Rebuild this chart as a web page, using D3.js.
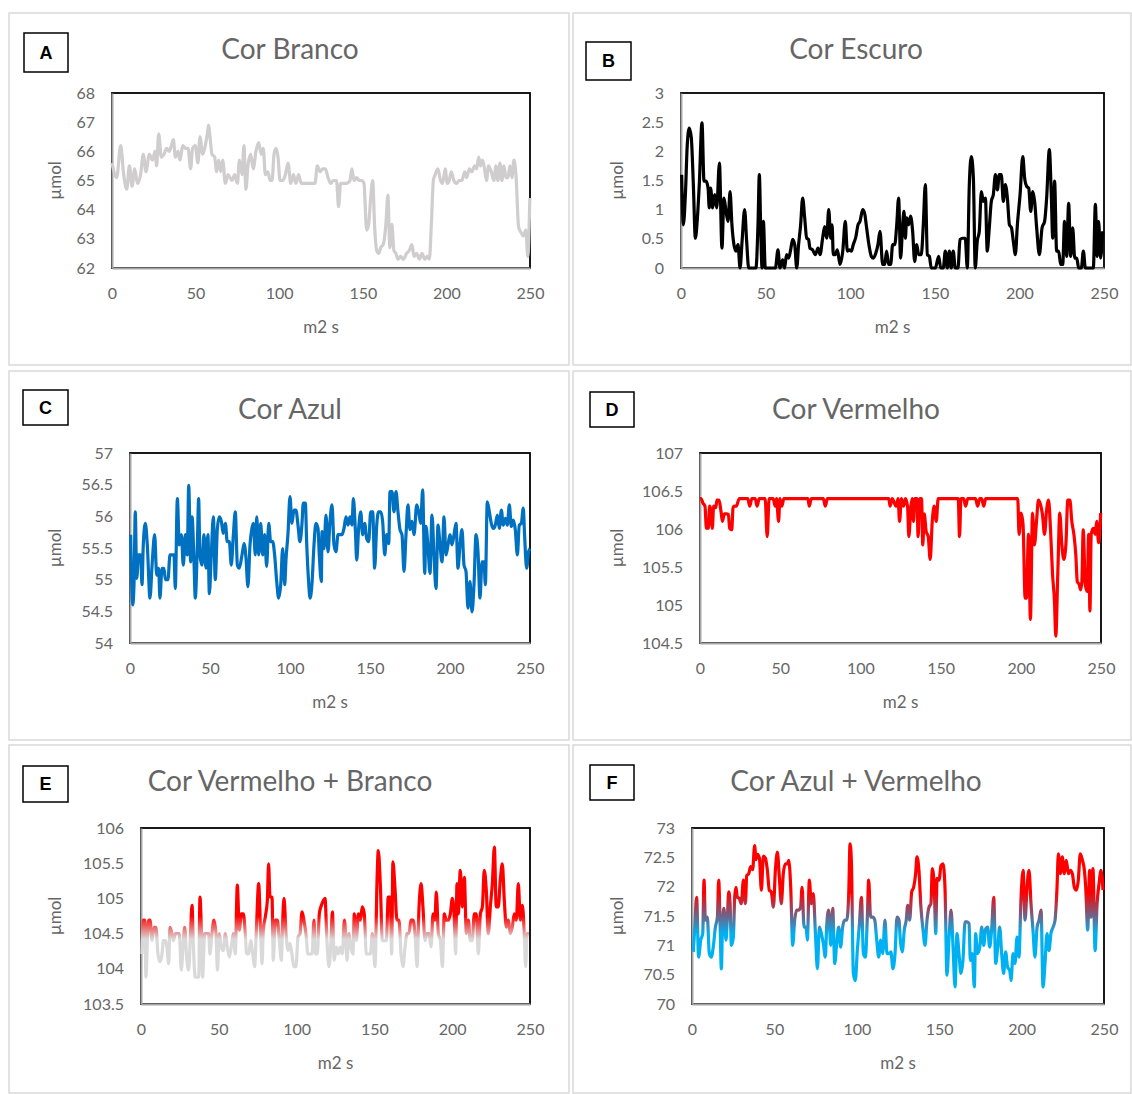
<!DOCTYPE html>
<html>
<head>
<meta charset="utf-8">
<script src="https://cdn.jsdelivr.net/npm/d3@7"></script>
<style>
  body { margin: 0; background: #fff; }
  svg { display: block; font-family: Lato, "Open Sans", sans-serif; }
</style>
</head>
<body>
<svg width="1132" height="1094"></svg>
<script>
// [m2 s, µmol] pairs
const branco = [[0,65.6],[2.8,65.1],[5.2,66.2],[6.8,65.3],[8.8,64.7],[10.4,65.5],[12,64.8],[13.6,65.4],[15.2,64.9],[17.1,65.2],[18.7,65.9],[20.3,65.3],[22.3,65.9],[24.3,65.7],[25.7,66.0],[26.7,65.5],[27.9,66.6],[29.5,65.8],[31.1,65.9],[32.7,66.1],[34.3,66.0],[35.5,66.2],[36.7,66.4],[37.9,65.8],[39.5,66.0],[40.7,65.7],[42.3,66.2],[43.9,66.1],[45.5,66.1],[47,65.4],[48.2,66.1],[49.8,66.2],[51.4,65.6],[52.6,66.5],[54.2,65.9],[55.8,66.2],[57,66.6],[57.8,66.9],[58.6,66.5],[59.8,65.9],[61.4,65.8],[62.6,65.3],[63.8,65.7],[65,65.3],[66.2,65.7],[67.8,64.9],[69.4,65.2],[70.6,65.1],[71.8,65.0],[73.4,65.2],[75,64.9],[76.2,65.7],[77.8,65.2],[78.9,66.2],[80.1,64.7],[81.3,65.5],[82.9,65.9],[84.5,65.4],[86.1,66.0],[87.7,66.3],[89.3,65.9],[90.5,66.1],[91.7,65.2],[93.3,65.3],[94.5,65.0],[95.7,65.0],[96.9,65.9],[98.1,66.1],[99.3,65.8],[100.5,65.0],[102.1,65.0],[103.7,65.2],[105.3,65.6],[106.9,64.9],[108.5,65.2],[110,64.9],[111.6,65.2],[113.2,64.9],[114.8,64.9],
  [118.4,64.9],[121.4,64.9],[122.8,65.5],[124.4,65.3],[126,65.4],[127.6,65.4],[129.2,65.1],[130.8,64.9],[132.4,65.0],[134.3,65.0],[135.5,64.1],[136.7,64.9],[138.3,64.9],[140.3,64.9],[142.3,65.0],[143.5,65.4],[144.7,65.0],[146.3,65.1],[147.9,65.0],[149.5,65.0],[150.7,64.9],[152.3,63.3],[153.5,63.5],[154.7,64.4],[155.9,65.0],[157.1,63.4],[158.3,62.6],[159.5,62.5],[160.7,62.7],[162.2,62.8],[163.8,63.5],[165,64.5],[166.2,62.7],[167.4,63.5],[168.6,62.6],[169.8,62.5],[171,62.3],[172.6,62.4],[174.2,62.3],[176.2,62.5],[177.8,62.6],[179.4,62.8],[180.6,62.4],[182.2,62.5],[183.8,62.3],[185.4,62.5],[187,62.3],[188.6,62.4],[189.8,62.3],[191,63.5],[192.2,65.0],[193.3,65.2],[194.9,65.4],[196.5,65.0],[197.7,64.9],[199.3,65.4],[200.5,64.9],[201.7,65.0],[202.9,65.3],[204.5,65.0],[206.1,64.9],[207.7,65.0],[209.3,65.0],[210.9,65.3],[212.1,65.1],[213.7,65.4],[215.3,65.3],[216.9,65.5],[218.1,65.4],[219.3,65.8],[220.4,65.5],[221.6,65.7],[222.8,65.4],[224,65.0],[225.2,65.5],[226.8,65.3],[228.4,65.0],[229.6,65.5],[230.8,65.0],[232,65.6],[233.2,65.0],[234.4,65.5],[235.6,65.1],[236.8,65.1],[238,65.5],[239.2,65.1],[240.4,65.7],[241.6,65.2],[243.2,63.4],[244.8,63.2],[246,63.1],[247.5,63.3],[248.7,62.4],[249.9,64.4]];

const escuro = [[0.4,1.6],[1.4,0.74],[2.6,1.26],[3.7,2.11],[4.9,2.4],[6.1,2.23],[7.3,1.43],[8.5,0.51],[9.7,0.86],[10.8,1.43],[12.4,2.49],[13.6,1.49],[14.8,1.49],[16,1.37],[16.7,1.03],[17.5,1.37],[18.7,1.03],[19.9,1.26],[21.1,1.03],[22.7,1.8],[24.2,0.34],[25.4,1.2],[26.6,0.97],[27.8,0.8],[29,1.31],[30.1,0.74],[31.3,0.4],[32.5,0.29],[33.7,0.4],[34.9,0],[36.1,0.46],[37.6,1.0],[38.8,0.46],[40,0],[44.3,0],[45.5,0.74],[46.3,1.6],[47.1,0.69],[47.9,0],[48.7,0.8],[49.8,0],[55.8,0],[57.3,0.31],[58.5,0],[60.1,0.14],[61.2,0],[62.4,0.23],[63.6,0.17],[64.8,0.31],[66,0.49],[67.2,0.4],[68.4,0],[69.5,0.4],[70.7,0.74],[71.9,1.2],[73.1,0.86],[74.3,0.51],[75.4,0.49],[76.2,0.34],[77.8,0.31],[79.4,0.23],[81,0.34],[82.2,0.23],[83.7,0.51],[84.9,0.71],[86.1,0.51],[87.3,1.0],[88.5,0.51],[89.3,0.74],[90,0.23],[91.2,0.23],[92.4,0.31],[94,0.06],[95.6,0.29],[97.1,0.8],[98.3,0.29],[99.5,0.31],[100.7,0.29],[101.8,0.4],[103.4,0.54],[104.6,0.74],[105.8,0.8],[107.4,1.0],[108.5,0.94],[109.7,0.69],[110.9,0.43],[112.5,0.2],[113.7,0.17],[115.2,0.26],[116.4,0.4],
  [117.6,0.63],[119.2,0.06],[120.4,0.06],[121.5,0.29],[122.7,0.06],[123.9,0.06],[125.1,0.4],[126.3,0.4],[127.5,0.74],[128.6,1.2],[129.8,0.17],[131,0.74],[131.8,0.97],[132.6,0.51],[133.4,0.86],[134.5,0.74],[135.7,0.89],[136.9,0.63],[138.1,0.11],[139.3,0.4],[140.5,0.23],[142,0.23],[143.2,0.74],[144.4,1.43],[145.6,0.23],[146.8,0.2],[147.9,0],[150.3,0],[152.3,0.2],[153.5,0],[155,0],[156.2,0.29],[157.4,0],[158.6,0.29],[159.7,0],[160.9,0.29],[162.1,0],[163.7,0],[164.9,0.49],[166.5,0.51],[168,0.51],[169.2,0],[170.4,1.43],[171.6,1.91],[172.8,1.54],[173.9,0],[175.1,0.46],[176.3,0.63],[177.5,1.31],[178.7,1.14],[179.9,1.2],[181,0.29],[182.2,0.69],[183.4,1.14],[184.6,1.26],[185.8,1.6],[187,1.34],[188.1,1.6],[189.3,1.6],[190.5,1.14],[191.7,1.43],[192.9,1.2],[194.1,0.74],[195.3,0.69],[196.4,0.46],[197.6,0.23],[198.8,0.74],[200.4,1.26],[202,1.91],[203.1,1.54],[204.3,1.4],[205.5,1.37],[206.7,0.97],[207.9,1.31],[209,1.14],[210.2,0.69],[211.8,0.23],[213.4,0.69],[214.9,0.8],[216.1,1.2],[217.7,2.03],[218.9,1.2],[219.7,0.51],[220.8,1.49],[222,0.29],[223.2,0.29],[224.4,0.06],[225.6,0.06],[226.7,0.8],[227.9,0.2],[229.1,1.11],[230.3,0.2],[231.5,0.69],[232.7,0.17],[233.9,0.17],[235,0],[236.6,0],[237.8,0.29],[239,0],[243.7,0],[244.9,1.09],[246,0.2],[246.8,0.8],[248,0.17],[249.2,0.63]];

const azul = [[0.4,55.71],[1.7,54.6],[2.5,54.92],[3.3,56.07],[4.2,55.02],[5.4,55.39],[6.7,55.39],[7.5,54.92],[8.3,55.55],[9.6,55.89],[10.8,55.55],[12.5,54.71],[13.8,55.23],[15.4,55.71],[16.7,55.07],[17.9,55.18],[18.7,54.71],[20,55.18],[21.2,55.18],[22.1,55.0],[23.7,55.0],[25,55.39],[26.2,55.39],[27.5,55.39],[28.3,54.86],[29.6,56.28],[30.8,55.55],[32.1,55.71],[33.3,55.23],[34.6,55.71],[35.8,55.39],[36.7,56.49],[37.9,55.28],[38.8,55.99],[40,55.28],[40.8,54.71],[42.1,55.55],[42.9,56.28],[43.7,55.39],[45,55.23],[46.2,55.71],[47.5,55.18],[48.7,55.71],[49.6,54.78],[50.8,55.39],[52.1,55.99],[53.3,55.0],[54.6,55.81],[55.8,55.99],[57.1,55.92],[58.3,55.73],[59.6,55.89],[60.8,55.6],[62.1,55.6],[63.3,55.23],[64.6,55.71],[65.8,56.07],[67.1,55.23],[68.3,55.18],[70,55.39],[71.3,55.57],[72.5,55.34],[73.7,54.89],[75,55.55],[76.2,55.81],[77.1,55.89],[78.3,55.39],[79.2,55.99],[80.4,55.39],[81.7,55.89],[82.9,55.39],[84.2,55.71],[85.4,55.21],[86.7,55.89],[87.9,55.6],[89.2,55.6],[90.4,55.39],[91.7,54.97],[92.9,54.71],[94.2,54.92],[95.4,55.49],[96.7,54.92],[97.5,55.32],[98.7,55.71],[100,56.31],[101.2,55.89],[102.5,56.1],[103.7,56.1],[105,55.86],[106.2,55.6],[107.5,55.89],[108.3,56.21],[109.6,56.21],[110.4,55.6],[111.7,54.94],[112.5,54.71],[113.7,54.92],[115,55.55],[116.2,55.89],[117.5,55.81],[118.3,55.39],[119.6,54.97],
  [120,55.76],[121.25,55.49],[122.5,56.02],[123.75,55.44],[125,55.92],[126.25,56.18],[127.5,55.55],[128.75,55.44],[130,55.71],[131.25,55.71],[132.5,55.71],[133.75,55.81],[135,55.99],[136.25,55.86],[137.5,55.99],[138.75,55.86],[139.6,56.28],[140.8,55.81],[141.7,55.31],[142.9,55.81],[144.2,56.07],[145.4,55.71],[146.7,55.89],[147.9,55.65],[149.2,55.6],[150.4,56.07],[151.7,56.07],[152.9,55.18],[154.2,55.86],[155.4,56.07],[156.7,56.07],[157.9,55.92],[159.2,55.39],[160.4,55.71],[161.7,55.57],[162.5,56.39],[163.75,56.39],[165,56.07],[166.25,56.39],[167.5,56.07],[168.75,55.79],[170,55.71],[171.25,55.13],[172.5,55.71],[173.75,56.18],[175,55.79],[176.25,55.92],[177.5,55.71],[179.2,56.18],[180.4,56.07],[181.7,55.89],[182.9,56.42],[184.2,55.1],[185,55.84],[186.25,55.52],[187.5,55.1],[188.75,56.02],[190,55.39],[191.25,54.86],[192.5,55.86],[193.75,55.55],[195,55.28],[196.25,55.99],[197.5,55.39],[198.75,55.55],[200,55.71],[201.25,55.55],[202.5,55.71],[203.75,55.89],[205,55.18],[206.25,55.55],[207.5,55.79],[208.75,55.23],[210,55.13],[211.25,54.55],[212.5,54.97],[213.75,54.49],[215,54.92],[216.25,55.71],[217.5,55.44],[218.75,54.71],[220,55.28],[221.25,55.28],[222.1,54.92],[223.3,56.23],[224.6,56.07],[225.8,55.89],[227.1,55.81],[228.3,55.86],[229.6,56.02],[230.8,55.81],[232.1,56.1],[233.3,55.86],[234.6,55.97],[235.8,55.86],[237.1,56.18],[238.3,55.84],[239.6,55.94],[240.8,55.79],[242.1,55.39],[243.3,55.86],[244.6,55.89],[245.8,56.13],[246.6,55.71],[247.9,55.18],[249.1,55.44],[250,55.49]];

const vermelho = [[0,106.4],[0.6,106.4],[1.9,106.34],[3.1,106.3],[4,106.01],[5.2,106.01],[6,106.3],[6.9,106.23],[7.7,106.01],[8.5,106.3],[9.8,106.28],[10.6,106.38],[11.9,106.38],[13.1,106.23],[14,106.1],[15.2,106.2],[16.5,106.2],[17.7,106.19],[18.5,106.01],[19.8,105.99],[20.6,106.28],[21.5,106.3],[22.7,106.3],[24,106.38],[24.6,106.4],[29.8,106.4],[31,106.3],[32.3,106.4],[34.4,106.4],[35.6,106.3],[36.9,106.4],[40.6,106.4],[41.9,105.9],[43.1,106.4],[45.6,106.4],[46.9,106.3],[47.7,106.4],[49,106.1],[49.8,106.4],[51,106.3],[52.3,106.4],[67.3,106.4],[68.1,106.3],[69.4,106.4],[76.9,106.4],[78.1,106.3],[79.4,106.4],[117.7,106.4],[118.5,106.3],[119.8,106.4],
  [122.3,106.3],[123.5,106.4],[124.4,106.1],[125.6,106.4],[126.9,106.3],[128.1,106.4],[129.4,106.3],[130.2,105.9],[131.5,106.3],[132.3,106.4],[133.1,106.1],[133.9,106.4],[135.2,106.4],[136,105.9],[136.9,106.4],[138.1,106.4],[138.9,105.79],[139.8,106.2],[141,105.97],[142.3,105.9],[143.5,105.6],[144.8,106.1],[146,106.3],[147.3,106.1],[148.5,106.4],[161,106.4],[161.8,105.9],[162.7,106.4],[164.4,106.4],[165.6,106.3],[166.9,106.4],[171.8,106.4],[173.1,106.3],[174.4,106.4],[175.6,106.4],[176.9,106.3],[178.1,106.4],[198.1,106.4],[198.9,105.93],[200.2,106.21],[201.4,106.06],[202.7,105.09],[203.5,105.09],[204.8,105.93],[206,104.81],[207.3,106.21],[208.5,105.79],[209.8,106.1],[211,106.38],[212.3,106.32],[213.5,106.19],[214.8,105.93],[216,106.23],[217.3,106.38],[218.5,106.01],[219.8,105.4],[221,105.05],[221.8,104.59],[223.1,105.44],[224.3,106.21],[225.6,105.79],[226.8,105.6],[228.1,105.79],[229.3,106.38],[230.6,106.38],[231.8,106.1],[233.1,105.93],[234.3,105.66],[235.2,105.31],[236.4,105.27],[237.3,105.2],[238.1,105.31],[238.9,105.99],[240.2,105.27],[241.4,105.18],[242.3,105.93],[243.1,104.92],[243.9,105.93],[245.2,106.01],[246.4,105.93],[247.3,106.1],[248.5,105.82],[249.8,106.21]];

const vermelhoBranco = [[0.6,104.21],[1.5,104.69],[2.4,104.69],[3.2,103.88],[4.1,104.4],[4.9,104.69],[5.8,104.69],[7.1,104.4],[8.4,104.59],[9.6,104.59],[10.9,104.21],[12.2,104.1],[13.5,104.21],[14.4,104.4],[15.6,104.4],[16.9,104.26],[17.8,104.07],[18.6,104.59],[19.9,104.5],[20.8,104.4],[22.1,104.5],[23.3,104.5],[24.6,104.5],[25.9,103.98],[27.2,104.4],[28.1,104.59],[29.3,104.17],[30.6,103.98],[31.9,104.55],[32.8,104.9],[33.6,104.36],[34.9,103.88],[35.8,103.88],[37.1,103.88],[37.9,105.02],[38.8,104.55],[39.6,103.88],[40.9,104.5],[42.2,104.5],[43.5,104.5],[44.3,104.21],[45.6,104.5],[46.9,104.69],[48.2,104.5],[49.1,103.98],[50.3,104.5],[51.6,104.31],[52.9,104.26],[54.2,104.5],[55.5,104.31],[56.8,104.17],[58,104.31],[59.3,104.5],[60.6,104.21],[61.9,105.19],[63.2,104.55],[64.5,104.78],[65.8,104.78],[67,104.5],[67.9,104.21],[69.2,104.21],[70.5,104.4],[71.8,104.21],[73,104.03],[74.3,104.64],[75.6,105.21],[76.9,104.5],[77.8,104.07],[78.6,104.55],[79.9,104.74],[81.2,104.97],[82,105.49],[82.9,105.02],[84.2,105.02],[85,104.12],[86.3,104.69],[87.6,104.69],[88.9,104.4],[90.2,104.12],[91,104.64],[91.9,105.0],[93.2,104.5],[94.5,104.26],[95.7,104.36],[97,104.21],[98.3,104.03],[99.6,104.03],[100.9,104.45],[102.2,104.5],[103.5,104.81],[104.7,104.69],[106,104.5],[107.3,104.21],[108.6,104.21],[109.9,104.21],[111.2,104.69],[112,104.21],[113.3,104.21],[114.6,104.78],[115.9,104.9],[117.2,104.97],
  [118.25,105.0],[119.5,104.4],[120.8,104.03],[122.1,104.4],[123,104.81],[124.2,104.12],[125.5,104.31],[126.8,104.21],[128,104.31],[129.4,104.21],[130.7,104.69],[131.5,104.5],[132.4,104.12],[133.7,104.5],[134.9,104.31],[136.2,104.21],[137.1,104.78],[138.4,104.4],[139.7,104.78],[141,104.69],[142.2,104.88],[143.5,104.78],[144.8,104.21],[146.1,104.21],[147.4,104.21],[148.7,104.5],[150.4,104.03],[151.7,105.26],[152.5,105.68],[153.8,105.21],[155.1,104.4],[156.4,104.4],[157.7,104.4],[158.9,105.02],[160.2,105.02],[161.1,104.21],[161.9,105.52],[163.2,105.16],[164.5,104.69],[165.8,104.69],[167.1,104.21],[168.4,104.03],[169.7,104.31],[171,104.5],[172.2,104.5],[173.5,104.69],[174.8,104.69],[176.1,104.5],[177.4,104.03],[178.7,104.88],[180,105.21],[181.2,104.88],[182.5,104.4],[183.8,104.5],[185.1,104.5],[186.4,104.31],[187.7,104.78],[188.9,104.69],[189.8,105.09],[191.1,104.5],[192.4,104.4],[193.7,104.03],[194.9,104.78],[196.2,104.69],[197.5,104.69],[198.8,104.78],[200.1,105.0],[201.4,104.69],[202.2,104.21],[203.1,105.21],[203.9,104.78],[205.2,105.4],[206.5,104.88],[207.8,105.3],[209.1,104.5],[210.4,104.69],[211.6,104.4],[212.9,104.4],[214.2,104.78],[215.5,104.78],[216.8,104.21],[218.1,104.78],[219.4,104.88],[220.6,105.4],[221.9,105.12],[223.2,104.5],[224.5,104.88],[225.8,105.21],[227.1,105.73],[228.3,104.88],[229.6,104.88],[230.9,105.26],[232.2,105.49],[233.5,104.97],[234.8,104.59],[236.1,104.69],[237.3,104.5],[238.6,104.59],[239.9,104.78],[241.2,104.69],[242.5,105.21],[243.8,104.69],[245.1,104.9],[246.3,104.5],[247.2,104.03],[248.1,104.5],[249.3,104.5]];

const azulVermelho = [[0.8,70.89],[1.6,71.26],[2.8,71.82],[4,70.8],[5.3,71.09],[6.5,71.2],[7.3,72.11],[8.1,71.43],[9.3,71.48],[10.5,70.86],[11.7,70.8],[12.9,70.97],[14.2,71.31],[15.4,71.48],[16.2,72.11],[17,71.43],[17.8,70.6],[18.6,71.43],[19.4,71.63],[20.6,71.09],[21.4,71.43],[22.3,71.91],[23.1,71.71],[23.9,71.0],[25.1,71.14],[25.9,71.82],[26.7,71.99],[27.5,71.82],[28.7,71.8],[29.9,71.71],[31.2,72.11],[32.4,71.71],[33.2,72.19],[34.4,72.22],[35.6,72.34],[36.8,72.29],[38,72.7],[38.8,72.46],[39.7,72.55],[40.9,72.49],[42.1,71.94],[43.3,72.52],[44.5,72.49],[45.7,72.29],[46.9,71.94],[48.1,71.91],[49.4,71.65],[50.6,72.28],[51.8,72.59],[53,72.16],[54.2,71.71],[55.4,72.22],[56.7,72.39],[57.9,72.39],[58.7,72.45],[59.9,71.99],[61.1,71.0],[62.3,71.43],[63.5,71.6],[64.7,71.6],[65.9,71.65],[66.8,71.99],[68,71.31],[69.2,71.31],[70,71.09],[71.2,72.11],[72.4,71.71],[73.6,71.88],[74.9,71.2],[76.1,70.6],[77.3,71.31],[78.5,71.2],[79.7,71.03],[80.9,70.8],[81.7,71.31],[82.9,71.6],[84.2,71.0],[85.4,71.63],[86.6,70.69],[87.8,71.03],[89,71.31],[90.2,70.97],[91.4,71.31],[92.7,71.43],[93.9,71.43],[95.1,71.88],[95.9,72.73],[96.7,72.45],[97.9,70.52],[99.1,70.4],[100.3,70.91],[101.6,71.37],[102.8,71.82],[104,70.86],[105.2,70.8],[106.4,71.48],[107.2,72.11],[108.4,71.48],[109.7,71.48],[110.9,71.43],[112.1,71.09],[113.3,70.8],[114.5,71.09],[115.7,70.86],
  [117.1,71.43],[118.3,70.86],[119.5,70.86],[120.7,70.89],[121.9,70.6],[123.2,70.86],[124.4,71.48],[125.6,71.43],[126.4,71.09],[127.6,70.89],[128.8,71.26],[130,71.43],[130.9,71.68],[132.1,71.43],[133.3,71.91],[134.5,71.99],[135.7,72.22],[136.5,72.51],[137.7,72.28],[138.9,71.65],[140.2,71.26],[141.4,71.0],[142.6,71.43],[143.8,71.65],[145,71.71],[145.8,72.31],[147,71.99],[147.9,71.2],[148.7,72.14],[149.9,72.11],[151.1,72.36],[152.3,72.39],[153.5,71.99],[154.7,70.49],[156,71.14],[157.2,71.6],[158.4,70.97],[159.6,70.29],[160.8,71.2],[162,70.86],[163.2,70.52],[164.4,70.74],[165.7,71.4],[166.9,71.4],[168.1,71.37],[168.9,70.74],[170.1,70.86],[171.3,70.29],[172.1,71.2],[173.3,70.86],[174.6,70.97],[175.8,71.31],[177,71.0],[178.2,71.28],[179.4,71.31],[180.6,70.97],[181.8,71.26],[183.1,71.82],[184.3,70.69],[185.5,70.97],[186.7,71.31],[187.9,70.86],[189.1,70.52],[190.3,70.89],[191.5,70.63],[192.8,70.57],[193.6,70.4],[194.8,70.86],[196,70.69],[197.2,71.14],[198.4,70.8],[199.6,71.77],[200.9,72.28],[202.1,71.43],[203.3,71.99],[204.5,72.28],[205.7,71.71],[206.9,71.26],[208.1,70.8],[209.4,71.31],[210.6,71.43],[211.8,71.6],[213,70.29],[214.2,70.69],[215.4,71.2],[216.6,70.91],[217.8,71.2],[219.1,71.31],[220.3,71.43],[221.5,71.99],[222.3,72.56],[223.5,72.22],[224.7,72.51],[225.9,72.22],[227.1,72.45],[228.4,72.22],[229.6,72.28],[230.8,72.22],[232,71.99],[233.2,71.94],[234.4,72.11],[235.6,72.56],[236.9,72.45],[238.1,72.28],[238.9,71.99],[240.1,71.26],[241.3,72.28],[242.1,71.48],[243.3,72.31],[244.6,70.91],[245.8,71.71],[247,72.05],[248.2,72.28],[249.4,71.94]];

const xTicks = [0, 50, 100, 150, 200, 250];
const letters = ["A", "B", "C", "D", "E", "F"];
const titles = ["Cor Branco", "Cor Escuro", "Cor Azul", "Cor Vermelho", "Cor Vermelho + Branco", "Cor Azul + Vermelho"];
const yDomains = [[62, 68], [0, 3], [54, 57], [104.5, 107], [103.5, 106], [70, 73]];
const ySteps = [1, 0.5, 0.5, 0.5, 0.5, 0.5];
const series = [branco, escuro, azul, vermelho, vermelhoBranco, azulVermelho];

const svg = d3.select("svg");
const defs = svg.append("defs");
const textGray = "#666";

// layout of each panel
const layout = [
  { box: [9, 13, 560, 352],   plot: [112, 530, 93, 268],   tag: [24, 33, 44, 39],  ty: 59,  yt: 55,  stroke: "#cfcdcd" },
  { box: [573, 13, 558, 352], plot: [681, 1104, 93, 268],  tag: [586, 42, 45, 38], ty: 59,  yt: 617, stroke: "#000" },
  { box: [9, 371, 560, 369],  plot: [130, 530, 453, 643],  tag: [23, 390, 45, 35], ty: 419, yt: 55,  stroke: "#0070c0" },
  { box: [573, 371, 558, 369],plot: [700, 1101, 453, 643], tag: [590, 392, 44, 35],ty: 419, yt: 617, stroke: "#ff0000" },
  { box: [9, 745, 560, 348],  plot: [141, 530, 828, 1004], tag: [23, 766, 45, 36], ty: 791, yt: 55,  grad: ["#d9d9d9", "#ff0000", 104.42, 104.75] },
  { box: [573, 745, 558, 348],plot: [692, 1104, 828, 1004],tag: [590, 765, 44, 35],ty: 791, yt: 617, grad: ["#00b0f0", "#ff0000", 71.2, 71.9] }
];

layout.forEach((L, i) => {
  const g = svg.append("g");
  const [px0, px1, py0, py1] = L.plot;

  g.append("rect")
    .attr("x", L.box[0]).attr("y", L.box[1])
    .attr("width", L.box[2]).attr("height", L.box[3])
    .attr("fill", "#fff").attr("stroke", "#d9d9d9").attr("stroke-width", 1.5);

  const x = d3.scaleLinear().domain([0, 250]).range([px0, px1]);
  const y = d3.scaleLinear().domain(yDomains[i]).range([py1, py0]);

  // plot area frame
  g.append("rect")
    .attr("x", px0).attr("y", py0).attr("width", px1 - px0).attr("height", py1 - py0)
    .attr("fill", "#fff").attr("stroke", "#000").attr("stroke-width", 1.8);

  const yTicks = d3.range(yDomains[i][0], yDomains[i][1] + 1e-9, ySteps[i]);

  const yAxis = g.append("g")
    .attr("transform", `translate(${px0},0)`)
    .call(d3.axisLeft(y).tickValues(yTicks).tickSize(0).tickPadding(17)
      .tickFormat(d => String(+d.toFixed(1))));
  const xAxis = g.append("g")
    .attr("transform", `translate(0,${py1})`)
    .call(d3.axisBottom(x).tickValues(xTicks).tickSize(0).tickPadding(20));

  [yAxis, xAxis].forEach(a => {
    a.select(".domain").attr("stroke", "#a6a6a6").attr("stroke-width", 2);
    a.selectAll("text").attr("fill", textGray).attr("font-size", 16)
      .attr("font-family", "Lato, sans-serif");
  });

  // line colour
  let stroke = L.stroke;
  if (L.grad) {
    const id = "grad" + i;
    const lg = defs.append("linearGradient").attr("id", id)
      .attr("gradientUnits", "userSpaceOnUse")
      .attr("x1", 0).attr("x2", 0)
      .attr("y1", y(L.grad[2])).attr("y2", y(L.grad[3]));
    lg.append("stop").attr("offset", 0).attr("stop-color", L.grad[0]);
    lg.append("stop").attr("offset", 1).attr("stop-color", L.grad[1]);
    stroke = `url(#${id})`;
  }

  const line = d3.line()
    .x(d => x(d[0]))
    .y(d => y(d[1]))
    .curve(d3.curveMonotoneX);

  g.append("path")
    .datum(series[i])
    .attr("d", line)
    .attr("fill", "none")
    .attr("stroke", stroke)
    .attr("stroke-width", 3.2)
    .attr("stroke-linejoin", "round");

  // titles
  g.append("text")
    .attr("x", (L.box[0] + L.box[0] + L.box[2]) / 2 + (i % 2 ? 4 : 1) )
    .attr("y", L.ty)
    .attr("text-anchor", "middle")
    .attr("font-size", 28)
    .attr("fill", textGray)
    .text(titles[i]);

  g.append("text")
    .attr("x", (px0 + px1) / 2)
    .attr("y", py1 + 65)
    .attr("text-anchor", "middle")
    .attr("font-size", 17)
    .attr("fill", textGray)
    .text("m2 s");

  g.append("text")
    .attr("transform", `translate(${L.yt},${(py0 + py1) / 2}) rotate(-90)`)
    .attr("text-anchor", "middle")
    .attr("dy", "0.35em")
    .attr("font-size", 17)
    .attr("fill", textGray)
    .text("µmol");

  // panel letter
  g.append("rect")
    .attr("x", L.tag[0]).attr("y", L.tag[1])
    .attr("width", L.tag[2]).attr("height", L.tag[3])
    .attr("fill", "#fff").attr("stroke", "#000").attr("stroke-width", 1.5);
  g.append("text")
    .attr("x", L.tag[0] + L.tag[2] / 2)
    .attr("y", L.tag[1] + L.tag[3] / 2)
    .attr("dy", "0.36em")
    .attr("text-anchor", "middle")
    .attr("font-size", 18)
    .attr("font-weight", "bold")
    .attr("font-family", "'Liberation Sans', Arial, sans-serif")
    .text(letters[i]);
});
</script>
</body>
</html>
